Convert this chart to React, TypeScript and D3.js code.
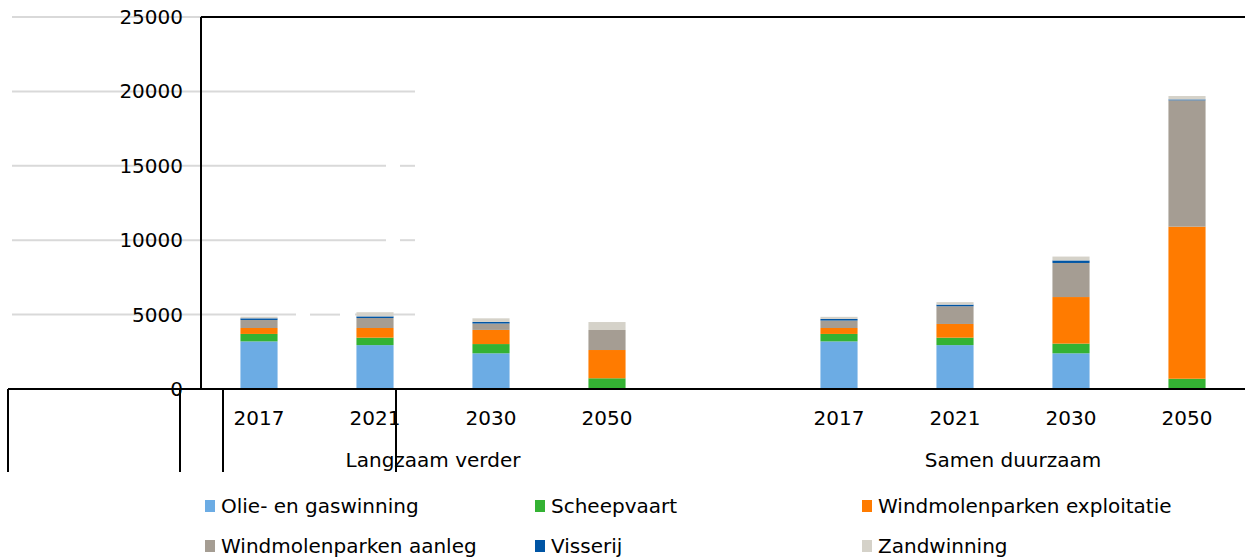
import React from 'react';
import * as d3 from 'd3';

// categories: two scenarios, four years each, with an empty slot between them
const years = ['2017', '2021', '2030', '2050'];
const scenarios = ['Langzaam verder', 'Samen duurzaam'];
const slots = ['L-2017', 'L-2021', 'L-2030', 'L-2050', 'gap', 'S-2017', 'S-2021', 'S-2030', 'S-2050'];

// series values (per slot, gap excluded)
const olieGas = [3200, 2950, 2400, 0, 3200, 2950, 2400, 0];
const scheepvaart = [500, 500, 620, 720, 500, 500, 650, 690];
const windExploitatie = [400, 650, 950, 1900, 400, 920, 3130, 10220];
const windAanleg = [540, 670, 430, 1345, 500, 1190, 2290, 8490];
const visserij = [110, 110, 110, 0, 110, 110, 170, 60];
const zandwinning = [110, 280, 240, 535, 140, 170, 260, 230];

const seriesNames = [
  'Olie- en gaswinning',
  'Scheepvaart',
  'Windmolenparken exploitatie',
  'Windmolenparken aanleg',
  'Visserij',
  'Zandwinning',
];
const seriesColors = ['#6cace4', '#34b233', '#ff7b00', '#a59d93', '#0055a4', '#d5d2c9'];
const yTicks = [0, 5000, 10000, 15000, 20000, 25000];

const font = '"DejaVu Sans", Verdana, sans-serif';

export default function App() {
  const barSlots = slots.filter(s => s !== 'gap');
  const allSeries = [olieGas, scheepvaart, windExploitatie, windAanleg, visserij, zandwinning];
  const rows = barSlots.map((slot, i) => {
    const row: any = { slot };
    seriesNames.forEach((n, k) => (row[n] = allSeries[k][i]));
    return row;
  });
  const stacked = d3.stack().keys(seriesNames)(rows);

  const x = d3.scaleBand().domain(slots).range([201, 1245]).paddingInner(0.68).paddingOuter(0.34);
  const y = d3.scaleLinear().domain([0, 25000]).range([389, 17]);

  // light grid, only drawn over the left part like in the source image
  const gridSegs: [number, number, number][] = [];
  yTicks.forEach(t => {
    if (t === 0) return;
    if (t === 25000) gridSegs.push([t, 12, 201]);
    else if (t === 20000) gridSegs.push([t, 12, 415]);
    else if (t === 5000) {
      gridSegs.push([t, 12, 296]);
      gridSegs.push([t, 310, 340]);
      gridSegs.push([t, 355, 415]);
    } else {
      gridSegs.push([t, 12, 386]);
      gridSegs.push([t, 400, 415]);
    }
  });

  const legendCols = [205, 535, 862];
  const legendRows = [506, 546];

  return (
    <svg width={1245} height={560} style={{ position: 'absolute', left: 0, top: 0, background: '#fff' }} fontFamily={font}>
      {gridSegs.map(([t, x1, x2], i) => (
        <line key={i} x1={x1} x2={x2} y1={y(t)} y2={y(t)} stroke="#d9d9d9" strokeWidth={2} />
      ))}

      {stacked.map((s, k) => (
        <g key={s.key} fill={seriesColors[k]}>
          {s.map((d, i) => (
            <rect
              key={i}
              x={x(barSlots[i])}
              width={x.bandwidth()}
              y={y(d[1])}
              height={Math.max(0, y(d[0]) - y(d[1]))}
            />
          ))}
        </g>
      ))}

      {/* y tick labels */}
      {yTicks.map(t => (
        <text key={t} x={183} y={y(t)} dy="0.35em" textAnchor="end" fontSize={20} fill="#000">
          {t}
        </text>
      ))}

      {/* axis frame */}
      <line x1={201} x2={201} y1={y(25000)} y2={y(0)} stroke="#000" strokeWidth={2} />
      <line x1={201} x2={1245} y1={y(25000)} y2={y(25000)} stroke="#000" strokeWidth={2} />
      <line x1={8} x2={1245} y1={y(0)} y2={y(0)} stroke="#000" strokeWidth={2} />
      {[8, 180, 223, 396].map(px => (
        <line key={px} x1={px} x2={px} y1={y(0)} y2={472} stroke="#000" strokeWidth={2} />
      ))}

      {/* category labels */}
      {barSlots.map((s, i) => (
        <text key={s} x={x(s)! + x.bandwidth() / 2} y={418} dy="0.35em" textAnchor="middle" fontSize={20}>
          {years[i % 4]}
        </text>
      ))}
      {scenarios.map((sc, j) => {
        const a = x(barSlots[j * 4])! + x.bandwidth() / 2;
        const b = x(barSlots[j * 4 + 3])! + x.bandwidth() / 2;
        return (
          <text key={sc} x={(a + b) / 2} y={460} dy="0.35em" textAnchor="middle" fontSize={20}>
            {sc}
          </text>
        );
      })}

      {/* legend */}
      {seriesNames.map((n, k) => {
        const lx = legendCols[k % 3];
        const ly = legendRows[Math.floor(k / 3)];
        return (
          <g key={n}>
            <rect x={lx} y={ly - 6} width={10} height={12} fill={seriesColors[k]} />
            <text x={lx + 16} y={ly} dy="0.35em" fontSize={20}>
              {n}
            </text>
          </g>
        );
      })}
    </svg>
  );
}
